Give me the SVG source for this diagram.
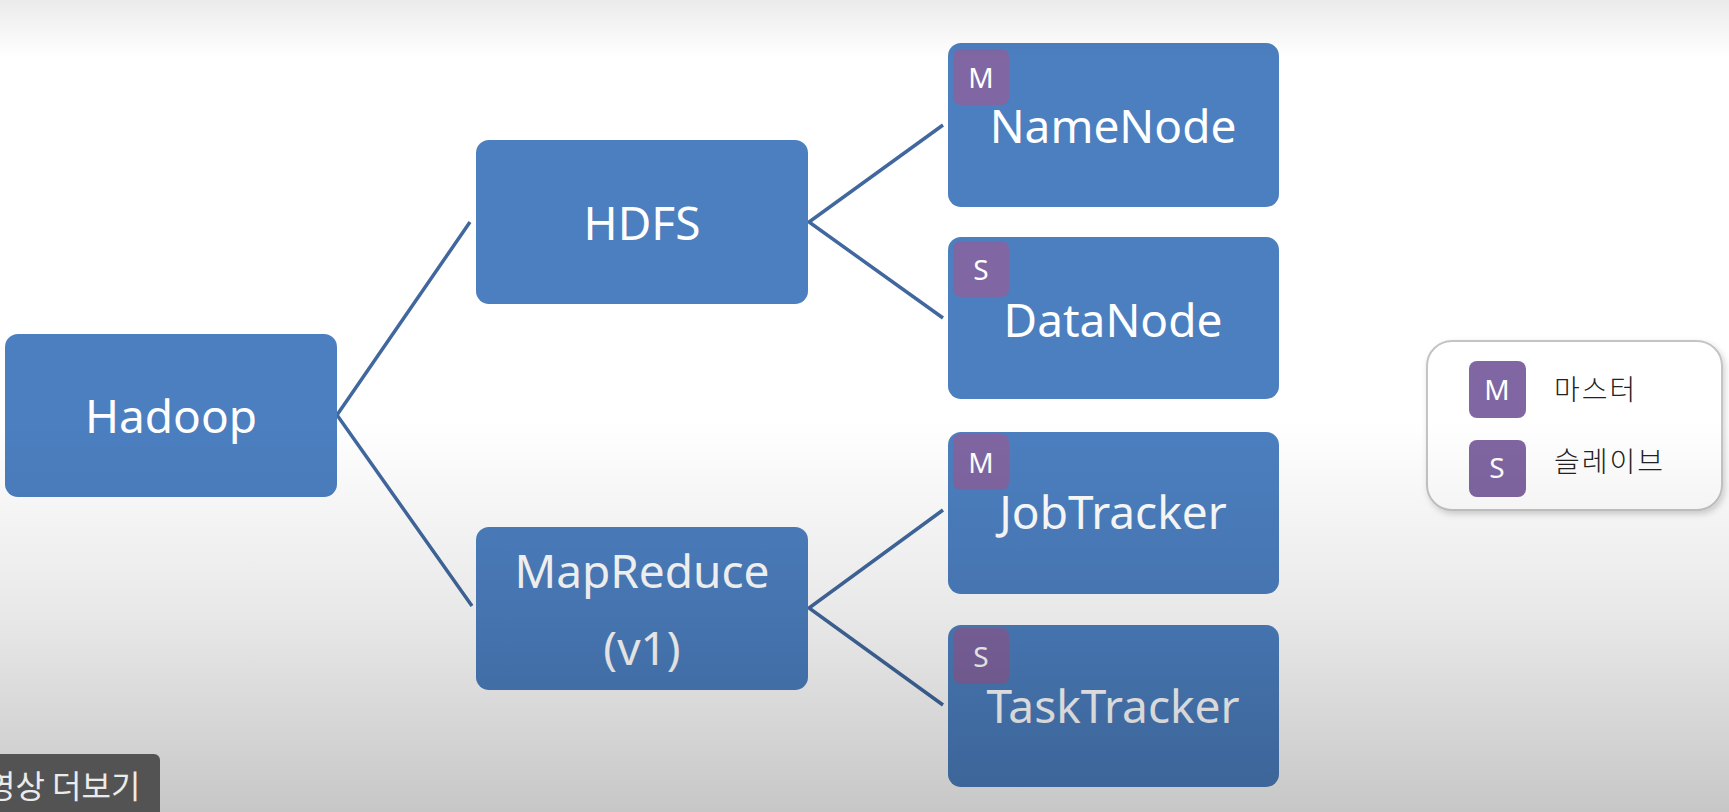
<svg xmlns="http://www.w3.org/2000/svg" width="1729" height="812" viewBox="0 0 1729 812">
  <defs>
    <linearGradient id="topShade" x1="0" y1="0" x2="0" y2="1">
      <stop offset="0" stop-color="#000" stop-opacity="0.08"/>
      <stop offset="1" stop-color="#000" stop-opacity="0"/>
    </linearGradient>
    <linearGradient id="bottomShade" x1="0" y1="0" x2="0" y2="1">
      <stop offset="0" stop-color="#000" stop-opacity="0"/>
      <stop offset="0.5" stop-color="#000" stop-opacity="0.09"/>
      <stop offset="1" stop-color="#000" stop-opacity="0.22"/>
    </linearGradient>
    <filter id="legendShadow" x="-10%" y="-10%" width="125%" height="130%">
      <feDropShadow dx="2" dy="3" stdDeviation="3" flood-color="#000" flood-opacity="0.18"/>
    </filter>
    <clipPath id="tipClip">
      <rect x="0" y="754" width="160" height="58"/>
    </clipPath>
  </defs>
  <style>
    .box { fill: #4c7fc0; }
    .badge { fill: #8066a2; }
    .label { font-family: "Noto Sans", "Open Sans", sans-serif; font-size: 46px; fill: #ffffff; text-anchor: middle; }
    .blabel { font-family: "Noto Sans", "Open Sans", sans-serif; font-size: 28px; fill: #ffffff; text-anchor: middle; }
    .conn { stroke: #41689e; stroke-width: 3.5; fill: none; stroke-linejoin: miter; }
    .kr { font-family: "Noto Sans CJK KR", sans-serif; font-size: 28px; fill: #222222; font-weight: 300; letter-spacing: 2px; }
  </style>

  <rect x="0" y="0" width="1729" height="812" fill="#ffffff"/>

  <g id="connectors">
    <polyline class="conn" points="470,222 337,415 472,606"/>
    <polyline class="conn" points="943,125 809,222 943,318"/>
    <polyline class="conn" points="943,510 809,608 943,705"/>
  </g>

  <g id="hadoop">
    <rect class="box" x="5" y="334" width="332" height="163" rx="13"/>
    <text class="label" x="171" y="433">Hadoop</text>
  </g>

  <g id="hdfs">
    <rect class="box" x="476" y="140" width="332" height="164" rx="13"/>
    <text class="label" x="642" y="240">HDFS</text>
  </g>

  <g id="mapreduce">
    <rect class="box" x="476" y="527" width="332" height="163" rx="13"/>
    <text class="label" x="642" y="588">MapReduce</text>
    <text class="label" x="642" y="665">(v1)</text>
  </g>

  <g id="namenode">
    <rect class="box" x="948" y="43" width="331" height="164" rx="13"/>
    <rect class="badge" x="953" y="49" width="56" height="56" rx="8"/>
    <text class="blabel" x="981" y="88">M</text>
    <text class="label" x="1113" y="143">NameNode</text>
  </g>

  <g id="datanode">
    <rect class="box" x="948" y="237" width="331" height="162" rx="13"/>
    <rect class="badge" x="953" y="241" width="56" height="56" rx="8"/>
    <text class="blabel" x="981" y="280">S</text>
    <text class="label" x="1113" y="337">DataNode</text>
  </g>

  <g id="jobtracker">
    <rect class="box" x="948" y="432" width="331" height="162" rx="13"/>
    <rect class="badge" x="953" y="434" width="56" height="56" rx="8"/>
    <text class="blabel" x="981" y="473">M</text>
    <text class="label" x="1113" y="529">JobTracker</text>
  </g>

  <g id="tasktracker">
    <rect class="box" x="948" y="625" width="331" height="162" rx="13"/>
    <rect class="badge" x="953" y="628" width="56" height="56" rx="8"/>
    <text class="blabel" x="981" y="667">S</text>
    <text class="label" x="1113" y="723">TaskTracker</text>
  </g>

  <g id="legend">
    <rect x="1427" y="341" width="295" height="169" rx="25" fill="#ffffff" stroke="#c4c4c4" stroke-width="2" filter="url(#legendShadow)"/>
    <rect class="badge" x="1469" y="361" width="57" height="57" rx="8"/>
    <text class="blabel" x="1497" y="400">M</text>
    <text class="kr" x="1554" y="400">마스터</text>
    <rect class="badge" x="1469" y="440" width="57" height="57" rx="8"/>
    <text class="blabel" x="1497" y="478">S</text>
    <text class="kr" x="1554" y="472">슬레이브</text>
  </g>

  <rect x="0" y="0" width="1729" height="58" fill="url(#topShade)"/>
  <rect x="0" y="420" width="1729" height="392" fill="url(#bottomShade)"/>

  <g id="tooltip">
    <path d="M0,754 H154 A6,6 0 0 1 160,760 V812 H0 Z" fill="#535353"/>
    <text clip-path="url(#tipClip)" x="-14" y="798" font-family="Noto Sans CJK KR, sans-serif" font-size="32" fill="#ebebeb">영상 더보기</text>
  </g>
</svg>
